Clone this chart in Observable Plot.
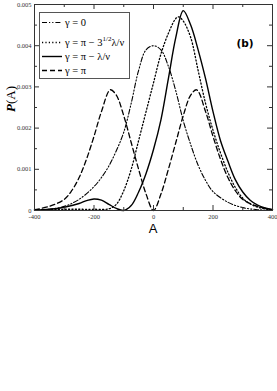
<!DOCTYPE html>
<html><head><meta charset="utf-8">
<script src="https://cdn.jsdelivr.net/npm/d3@7"></script>
<script src="https://cdn.jsdelivr.net/npm/@observablehq/plot@0.6"></script>
<style>body{margin:0;background:#fff}</style>
</head><body><div id="chart"></div>
<script>
// gamma = 0 (dash-dot-dot)
const A_g0 = [-400,-350,-300,-250,-200,-175,-150,-125,-100,-75,-50,-25,0,25,50,75,100,125,150,175,200,250,300,350,400];
const P_g0 = [0.00001,0.00003,0.0001,0.00027,0.00058,0.0008,0.00108,0.00145,0.0019,0.0026,0.0034,0.0039,0.004,0.0039,0.0035,0.0029,0.00218,0.0016,0.0011,0.00073,0.00046,0.0002,0.00007,0.00002,0.0];
// gamma = pi - sqrt(3) lambda/nu (dotted)
const A_g1 = [-400,-350,-300,-250,-200,-150,-125,-100,-75,-50,-25,0,25,50,75,85,100,125,150,175,200,225,250,275,300,325,350,400];
const P_g1 = [0.00001,0.00002,0.00003,0.00003,0.00003,0.00004,0.00015,0.00048,0.001,0.0017,0.0024,0.0031,0.0038,0.0043,0.00466,0.0047,0.0046,0.0042,0.0034,0.0026,0.00195,0.0014,0.00093,0.00056,0.0003,0.00016,0.00008,0.00001];
// gamma = pi - lambda/nu (solid)
const A_g2 = [-400,-350,-300,-250,-225,-200,-175,-150,-125,-100,-75,-50,-25,0,25,50,75,100,125,150,175,200,225,250,275,300,325,350,375,400];
const P_g2 = [0.00001,0.00003,0.00008,0.00017,0.00024,0.00028,0.00025,0.00015,0.00005,0.0,0.00012,0.00045,0.0009,0.00148,0.0022,0.0032,0.0042,0.00485,0.0045,0.0039,0.0032,0.0024,0.0017,0.0012,0.00075,0.00045,0.00025,0.00013,0.00006,0.00002];
// gamma = pi (dashed)
const A_g3 = [-400,-350,-300,-275,-250,-225,-200,-175,-145,-125,-100,-75,-50,-25,0,25,50,75,100,125,145,175,200,225,250,275,300,350,400];
const P_g3 = [0.00002,0.0001,0.00027,0.00048,0.0008,0.00125,0.0018,0.0024,0.00293,0.0028,0.0023,0.00165,0.001,0.0004,0.0,0.0004,0.001,0.00165,0.0023,0.0028,0.00293,0.0024,0.0018,0.00125,0.0008,0.00048,0.00027,0.0001,0.00002];

const xTicks = [-400,-200,0,200,400];
const xMinor = [-300,-100,100,300];
const yTicks = [0,0.001,0.002,0.003,0.004,0.005];
const yMinor = [0.0005,0.0015,0.0025,0.0035,0.0045];

const series = [
  {key:"g0", A:A_g0, P:P_g0, dash:"5,2,1.2,2,1.2,2", w:1.1},
  {key:"g1", A:A_g1, P:P_g1, dash:"1.2,2.2", w:1.3},
  {key:"g2", A:A_g2, P:P_g2, dash:null, w:1.4},
  {key:"g3", A:A_g3, P:P_g3, dash:"5,3", w:1.3}
];
const rows = series.flatMap(s => s.A.map((a,i)=>({key:s.key, A:a, P:s.P[i]})));

const W=277, H=391, mL=34, mR=5, mT=4, mB=181;
const pw = W-mL-mR, ph = H-mT-mB;
const serif = "Liberation Serif, Times New Roman, serif";

const chart = Plot.plot({
  width: W, height: H, marginLeft: mL, marginRight: mR, marginTop: mT, marginBottom: mB,
  x: {domain:[-400,400]},
  y: {domain:[0,0.005]},
  style: {background:"#fff"},
  marks: [
    ...series.map(s => Plot.line(rows.filter(r=>r.key===s.key), {x:"A", y:"P", curve:"catmull-rom", stroke:"#000", strokeWidth:s.w, strokeDasharray:s.dash})),
    Plot.frame({stroke:"#333", strokeWidth:1}),
    Plot.tickY(yTicks, {y:d=>d, insetRight: pw-5, stroke:"#333"}),
    Plot.tickY(yTicks, {y:d=>d, insetLeft: pw-5, stroke:"#333"}),
    Plot.tickY(yMinor, {y:d=>d, insetRight: pw-3, stroke:"#333"}),
    Plot.tickY(yMinor, {y:d=>d, insetLeft: pw-3, stroke:"#333"}),
    Plot.tickX(xTicks, {x:d=>d, insetTop: ph-5, stroke:"#333"}),
    Plot.tickX(xTicks, {x:d=>d, insetBottom: ph-5, stroke:"#333"}),
    Plot.tickX(xMinor, {x:d=>d, insetTop: ph-3, stroke:"#333"}),
    Plot.tickX(xMinor, {x:d=>d, insetBottom: ph-3, stroke:"#333"}),
    Plot.axisX(xTicks, {tickSize:0, tickPadding:4, fontSize:6.5, fontFamily:serif, fill:"#333", tickFormat:d=>String(d), label:null}),
    Plot.axisY(yTicks, {tickSize:0, tickPadding:3, fontSize:6.5, fontFamily:serif, fill:"#333", tickFormat:d=>d===0?"0":d3.format(".3f")(d), label:null})
  ]
});
document.getElementById("chart").appendChild(chart);

const svg = d3.select(chart);
// axis titles
svg.append("text").attr("transform","translate(15,99) rotate(-90)").attr("text-anchor","middle")
  .attr("font-family",serif).attr("font-size",13).attr("fill","#000")
  .call(t=>{t.append("tspan").attr("font-style","italic").attr("font-weight","bold").text("P");t.append("tspan").text("(A)");});
svg.append("text").attr("x",mL+pw/2).attr("y",233).attr("text-anchor","middle")
  .attr("font-family","Liberation Sans, Arial, sans-serif").attr("font-size",13).attr("fill","#000").text("A");
svg.append("text").attr("x",245).attr("y",47).attr("text-anchor","middle")
  .attr("font-family","DejaVu Sans, sans-serif").attr("font-weight","bold").attr("font-size",10.5).attr("fill","#000").text("(b)");

// legend
const lg = svg.append("g");
lg.append("rect").attr("x",39.5).attr("y",12.5).attr("width",90).attr("height",66)
  .attr("fill","#fff").attr("stroke","#555").attr("stroke-width",1);
const legendRows = [
  {s:series[0], y:22.5, parts:[["γ = 0"]]},
  {s:series[1], y:42.5, parts:[["γ = π − 3"],["1/2","sup"],["λ/ν","after"]]},
  {s:series[2], y:56.5, parts:[["γ = π − λ/ν"]]},
  {s:series[3], y:70.5, parts:[["γ = π"]]}
];
legendRows.forEach(r=>{
  lg.append("line").attr("x1",42).attr("x2",62).attr("y1",r.y).attr("y2",r.y)
    .attr("stroke","#000").attr("stroke-width",r.s.w).attr("stroke-dasharray",r.s.dash);
  const t = lg.append("text").attr("x",65).attr("y",r.y+3.5).attr("text-anchor","start")
    .attr("font-family",serif).attr("font-size",10.5).attr("fill","#000");
  r.parts.forEach(p=>{
    const ts = t.append("tspan").text(p[0]);
    if (p[1]==="sup") ts.attr("font-size",7).attr("dy",-5);
    else if (p[1]==="after") ts.attr("dy",5);
  });
});
</script>
</body></html>
